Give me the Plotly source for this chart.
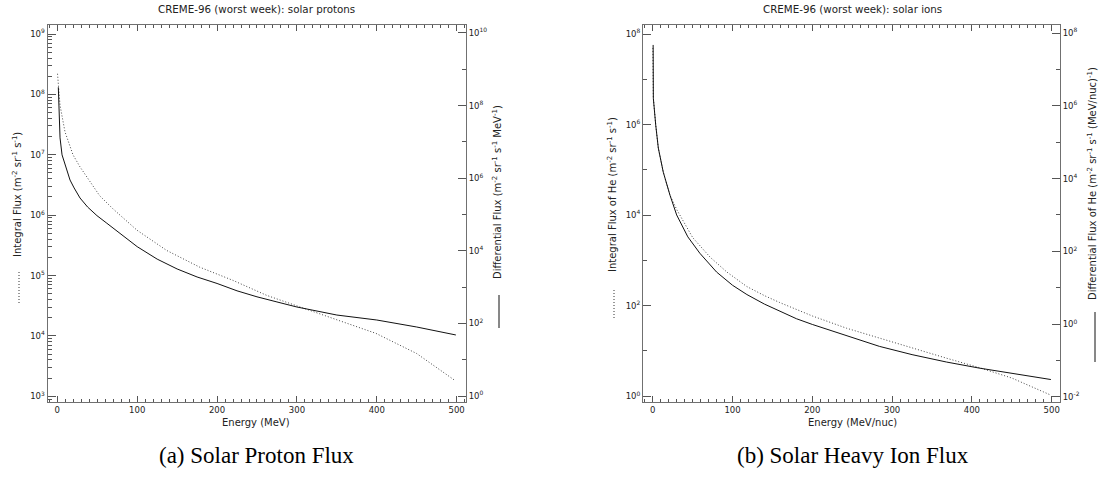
import plotly.graph_objects as go

# ---------------- data ----------------
# (a) solar protons : differential flux (right axis, solid) and integral flux (left axis, dotted)
p_diff_E = [1.25, 1.5, 2.5, 3.4, 5.9, 9.6, 15.9, 21, 28.4, 38, 49.6, 62, 75, 100, 125, 150, 175, 200,
            225, 250, 275, 300, 350, 400, 450, 499]
p_diff_F = [3.2e8, 1.95e8, 4.0e7, 1.29e7, 4.4e6, 2.3e6, 8.9e5, 5.4e5, 2.85e5, 1.6e5, 9.3e4, 5.75e4, 3.47e4,
            1.3e4, 5.9e3, 3.16e3, 1.9e3, 1.26e3, 7.9e2, 5.4e2, 3.9e2, 2.83e2, 1.7e2, 1.24e2, 7.96e1, 4.8e1]
p_int_E = [0.25, 1.5, 3.4, 9.6, 19.6, 28.4, 41, 53, 70, 100, 120, 137, 178, 220, 262, 303, 345, 399, 450, 497]
p_int_F = [2.2e8, 1.26e8, 6.6e7, 2.4e7, 1.0e7, 6.3e6, 3.5e6, 2.1e6, 1.26e6, 5.6e5, 3.7e5, 2.6e5, 1.38e5,
           8.3e4, 4.7e4, 3.0e4, 1.95e4, 1.1e4, 5.1e3, 1.86e3]

# (b) solar heavy ions (He)
i_diff_E = [0.5, 0.75, 3.75, 7, 13.2, 21.6, 30, 44, 59, 80, 100, 118, 140, 159, 180, 200, 243, 284, 325,
            368, 409, 450, 499]
i_diff_F = [4.7e7, 1.62e6, 2.95e5, 6.9e4, 1.5e4, 3.5e3, 1.0e3, 2.5e2, 8.9e1, 2.7e1, 1.17e1, 6.5, 3.55,
            2.24, 1.41, 0.98, 0.47, 0.245, 0.145, 0.091, 0.062, 0.044, 0.030]
i_int_E = [0.2, 0.75, 3.75, 7, 13.2, 21.6, 30.4, 50, 72, 93, 118, 140, 159, 180, 200, 243, 284, 325, 368,
           409, 450, 499]
i_int_F = [4.9e7, 3.9e6, 9.8e5, 3.0e5, 8.9e4, 2.75e4, 1.29e4, 3.2e3, 1.17e3, 5.5e2, 2.63e2, 1.66e2, 1.17e2,
           8.1e1, 5.9e1, 3.16e1, 1.9e1, 1.15e1, 6.9, 4.27, 2.51, 1.05]

# tick labels
x_ticks = [0, 100, 200, 300, 400, 500]
e_p_int = [3, 4, 5, 6, 7, 8, 9]
e_p_diff = [0, 2, 4, 6, 8, 10]
e_i_int = [0, 2, 4, 6, 8]
e_i_diff = [-2, 0, 2, 4, 6, 8]

FONT = "DejaVu Sans"
AX = "#555555"
TXT = "#222222"

fig = go.Figure()
fig.add_trace(go.Scatter(x=p_int_E, y=p_int_F, mode="lines", xaxis="x", yaxis="y",
                         line=dict(color="#444444", width=1, dash="1px,2px"), showlegend=False))
fig.add_trace(go.Scatter(x=p_diff_E, y=p_diff_F, mode="lines", xaxis="x", yaxis="y2",
                         line=dict(color="#111111", width=1), showlegend=False))
fig.add_trace(go.Scatter(x=i_int_E, y=i_int_F, mode="lines", xaxis="x2", yaxis="y3",
                         line=dict(color="#444444", width=1, dash="1px,2px"), showlegend=False))
fig.add_trace(go.Scatter(x=i_diff_E, y=i_diff_F, mode="lines", xaxis="x2", yaxis="y4",
                         line=dict(color="#111111", width=1), showlegend=False))

dom_y = [1 - 402 / 488, 1 - 25 / 488]
dom_x1 = [47.5 / 1099, 466 / 1099]
dom_x2 = [643 / 1099, 1060 / 1099]


def xax(domain, rng, anchor):
    return dict(domain=domain, range=rng, anchor=anchor, showgrid=False, zeroline=False,
                showline=True, linecolor="#707070", linewidth=1, mirror="ticks",
                ticks="inside", ticklen=6, tickwidth=1, tickcolor=AX,
                tickvals=x_ticks, ticktext=[str(v) for v in x_ticks],
                tickfont=dict(family=FONT, size=8.5, color=TXT),
                minor=dict(ticks="inside", ticklen=3, tickwidth=1, tickcolor=AX, dtick=10,
                           showgrid=False))


def sup(n):
    return "10<sup>%d</sup>" % n


def yax(rng, anchor, side, exps, minor_dtick, overlay=None):
    d = dict(type="log", range=rng, anchor=anchor, side=side, domain=dom_y,
             showgrid=False, zeroline=False, showline=True, linecolor="#707070", linewidth=1,
             ticks="inside", ticklen=8, tickwidth=1, tickcolor=AX,
             tickvals=[10.0 ** e for e in exps], ticktext=[sup(e) for e in exps],
             tickfont=dict(family=FONT, size=8.5, color=TXT),
             minor=dict(ticks="inside", ticklen=4, tickwidth=1, tickcolor=AX, dtick=minor_dtick,
                        showgrid=False))
    if overlay:
        d["overlaying"] = overlay
    return d


fig.update_layout(
    width=1099, height=488, margin=dict(l=0, r=0, t=0, b=0),
    paper_bgcolor="white", plot_bgcolor="white",
    xaxis=xax(dom_x1, [-12.3, 511.7], "y"),
    xaxis2=xax(dom_x2, [-12.2, 510.4], "y3"),
    yaxis=yax([2.905, 9.15], "x", "left", e_p_int, "D1"),
    yaxis2=yax([-0.165, 10.22], "x", "right", e_p_diff, 1, overlay="y"),
    yaxis3=yax([-0.13, 8.2], "x2", "left", e_i_int, 1),
    yaxis4=yax([-2.14, 8.22], "x2", "right", e_i_diff, 1, overlay="y3"),
)


def px(x):
    return x / 1099


def py(y):
    return 1 - y / 488


ann = []


def text(x, y, s, size=10, angle=0, family=FONT, color=TXT):
    ann.append(dict(x=px(x), y=py(y), xref="paper", yref="paper", text=s, showarrow=False,
                    xanchor="center", yanchor="middle", textangle=angle,
                    font=dict(family=family, size=size, color=color)))


text(256, 9, "CREME-96 (worst week): solar protons", size=10.3)
text(852, 9, "CREME-96 (worst week): solar ions", size=10.3)
text(256, 422, "Energy (MeV)", size=10)
text(852, 422, "Energy (MeV/nuc)", size=10)
text(17, 195, "Integral Flux (m<sup>-2</sup> sr<sup>-1</sup> s<sup>-1</sup>)", angle=-90)
text(497, 192, "Differential Flux (m<sup>-2</sup> sr<sup>-1</sup> s<sup>-1</sup> MeV<sup>-1</sup>)", angle=-90)
text(612, 195, "Integral Flux of He (m<sup>-2</sup> sr<sup>-1</sup> s<sup>-1</sup>)", angle=-90)
text(1092, 184, "Differential Flux of He (m<sup>-2</sup> sr<sup>-1</sup> s<sup>-1</sup> (MeV/nuc)<sup>-1</sup>)", angle=-90)
text(256, 455, "(a) Solar Proton Flux", size=23, family="Liberation Serif", color="black")
text(853, 455, "(b) Solar Heavy Ion Flux", size=23, family="Liberation Serif", color="black")
fig.update_layout(annotations=ann)

# legend key lines next to the axis titles
shapes = [
    dict(type="line", xref="paper", yref="paper", x0=px(19), x1=px(19), y0=py(272), y1=py(303),
         line=dict(color="#333333", width=1, dash="1px,2px")),
    dict(type="line", xref="paper", yref="paper", x0=px(499), x1=px(499), y0=py(295), y1=py(328),
         line=dict(color="#111111", width=1)),
    dict(type="line", xref="paper", yref="paper", x0=px(614), x1=px(614), y0=py(290), y1=py(318),
         line=dict(color="#333333", width=1, dash="1px,2px")),
    dict(type="line", xref="paper", yref="paper", x0=px(1095), x1=px(1095), y0=py(312), y1=py(362),
         line=dict(color="#111111", width=1)),
]
fig.update_layout(shapes=shapes)

fig.write_html("out.html")
